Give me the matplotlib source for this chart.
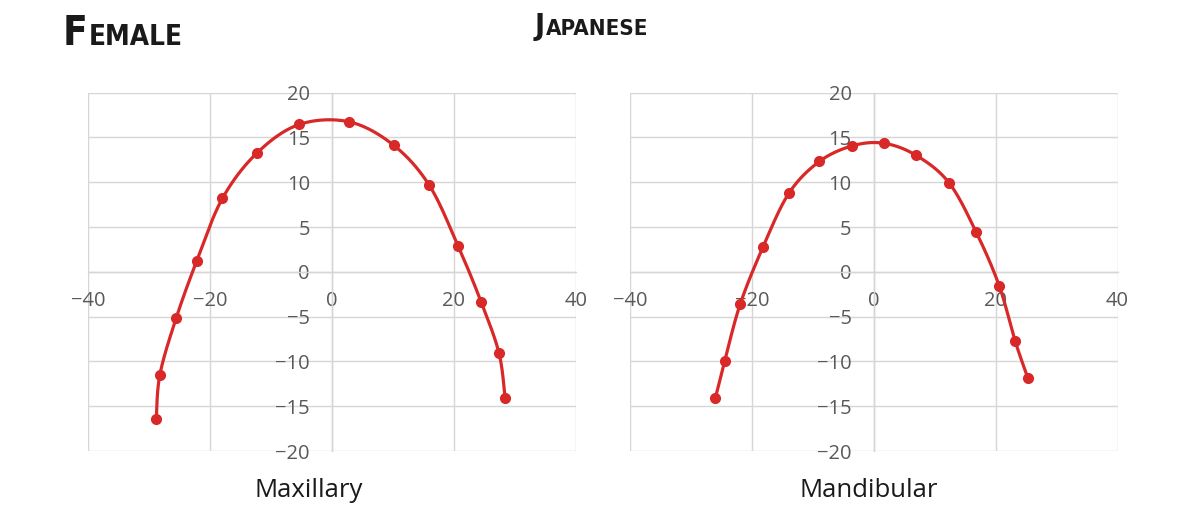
import numpy as np
import matplotlib
matplotlib.use("Agg")
import matplotlib.pyplot as plt

# Arch form coordinates (mm) for the female Japanese sample
max_x = [-28.85, -28.25, -25.6, -22.2, -18.0, -12.35, -5.4, 2.8, 10.1, 15.95, 20.65, 24.5, 27.4, 28.4]
max_y = [-16.45, -11.46, -5.2, 1.23, 8.19, 13.25, 16.45, 16.75, 14.14, 9.67, 2.94, -3.42, -9.08, -14.1]

man_x = [-25.97, -24.44, -21.92, -18.19, -13.92, -8.93, -3.51, 1.62, 6.92, 12.32, 16.81, 20.59, 23.19, 25.3]
man_y = [-14.03, -9.9, -3.61, 2.75, 8.78, 12.32, 14.07, 14.36, 13.02, 9.97, 4.43, -1.56, -7.7, -11.87]

x_ticks = [-40, -20, 0, 20, 40]
y_ticks = [-20, -15, -10, -5, 0, 5, 10, 15, 20]
panel_labels = ["Maxillary", "Mandibular"]

RED = "#d92828"
GRID = "#d6d6d6"
TICK = "#595959"
TICK_FONT = ["Open Sans", "DejaVu Sans"]
TITLE_FONT = ["DejaVu Sans"]


def smooth(xs, ys, n=30):
    """Cardinal (Catmull-Rom style) Bezier smoothing through the points."""
    p = np.column_stack([xs, ys]).astype(float)
    out = []
    for i in range(len(p) - 1):
        p0 = p[i - 1] if i > 0 else p[i]
        p1, p2 = p[i], p[i + 1]
        p3 = p[i + 2] if i + 2 < len(p) else p[i + 1]
        c1 = p1 + (p2 - p0) / 6.0
        c2 = p2 - (p3 - p1) / 6.0
        t = np.linspace(0, 1, n)[:, None]
        seg = ((1 - t) ** 3) * p1 + 3 * ((1 - t) ** 2) * t * c1 + 3 * (1 - t) * t ** 2 * c2 + t ** 3 * p2
        out.append(seg if i == 0 else seg[1:])
    s = np.vstack(out)
    return s[:, 0], s[:, 1]


fig = plt.figure(figsize=(11.81, 5.11), dpi=100)
fig.patch.set_facecolor("white")

W, H = 1181.0, 511.0
panels = [
    (88.3, max_x, max_y, 308.5),
    (630.0, man_x, man_y, 869.0),
]

for (left_px, xs, ys, lab_x), label in zip(panels, panel_labels):
    ax = fig.add_axes([left_px / W, 1 - 451 / H, 487.5 / W, (451 - 92.7) / H])
    ax.set_xlim(-40, 40)
    ax.set_ylim(-20, 20)
    ax.set_xticks(x_ticks)
    ax.set_yticks(y_ticks)
    ax.grid(True, color=GRID, linewidth=1.0)
    for gl in ax.get_xgridlines() + ax.get_ygridlines():
        gl.set_clip_on(False)
    ax.set_axisbelow(True)
    for side in ("top", "right"):
        ax.spines[side].set_visible(False)
    for side in ("left", "bottom"):
        ax.spines[side].set_position(("data", 0))
        ax.spines[side].set_color(GRID)
        ax.spines[side].set_linewidth(1.0)
    ax.tick_params(axis="both", length=0, labelsize=14.5, labelcolor=TICK)
    ax.tick_params(axis="y", pad=16)
    ax.tick_params(axis="x", pad=14)
    for t in ax.get_xticklabels() + ax.get_yticklabels():
        t.set_family(TICK_FONT)
    ax.set_facecolor("none")

    sx, sy = smooth(xs, ys)
    ax.plot(sx, sy, color=RED, linewidth=2.3, solid_capstyle="round", zorder=3, clip_on=False)
    ax.plot(xs, ys, linestyle="none", marker="o", markersize=7, color=RED, zorder=4, clip_on=False)

    fig.text(lab_x / W, 1 - 497 / H, label, ha="center", va="baseline",
             fontsize=18.5, color="#1a1a1a", family=TICK_FONT)

# Small-caps headings
renderer = fig.canvas.get_renderer()


def small_caps(x_px, base_px, first, rest, big, small):
    t1 = fig.text(x_px / W, 1 - base_px / H, first, fontsize=big, fontweight="bold",
                  fontstretch="condensed", family=TITLE_FONT, color="#1a1a1a",
                  va="baseline", ha="left")
    bb = t1.get_window_extent(renderer=renderer)
    fig.text(bb.x1 / W + 0.0005, 1 - base_px / H, rest, fontsize=small, fontweight="bold",
             fontstretch="condensed", family=TITLE_FONT, color="#1a1a1a",
             va="baseline", ha="left")


small_caps(63, 45, "F", "EMALE", 29, 20)
small_caps(535, 35, "J", "APANESE", 22, 16)

fig.savefig("out.png", dpi=100, facecolor="white")
